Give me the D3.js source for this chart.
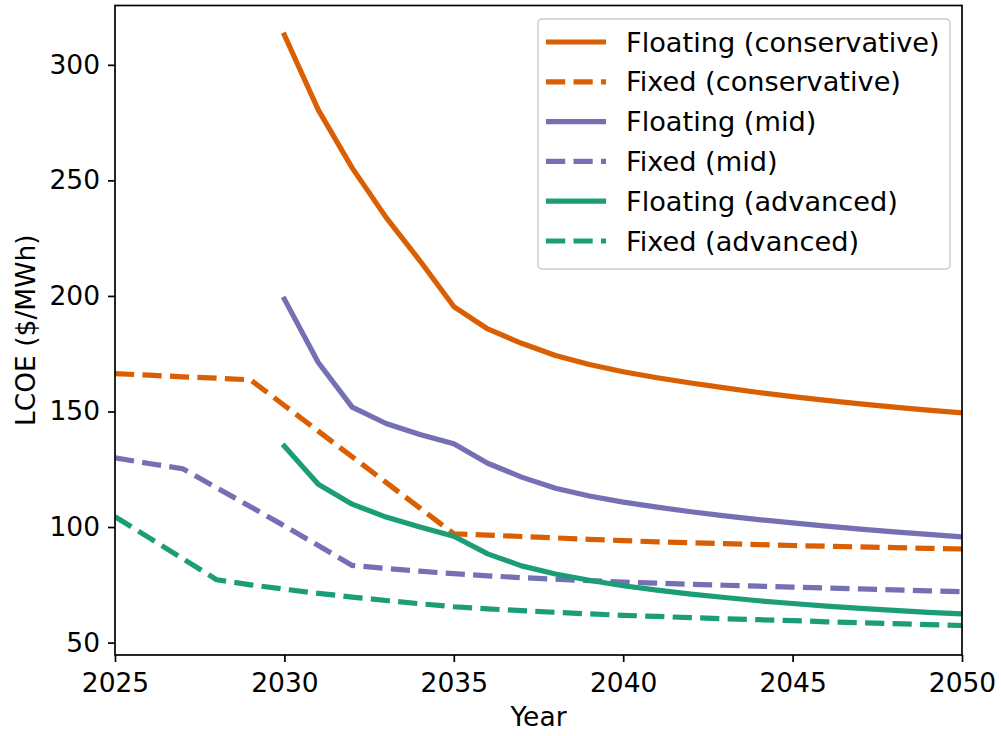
<!DOCTYPE html>
<html lang="en">
<head>
  <meta charset="UTF-8">
  <title>LCOE projections</title>
  <script src="https://d3js.org/d3.v7.min.js"></script>
  <style>
    body {
      margin: 0;
      background: #fff;
    }
    svg {
      display: block;
      font-family: "DejaVu Sans", sans-serif;
    }
  </style>
</head>
<body>
<svg width="1001" height="736"></svg>

<script>
  // years for each series
  const yearsFull = d3.range(2025, 2051);
  const yearsFloat = d3.range(2030, 2051);

  // LCOE values ($/MWh)
  const floatingConservative = [312.9, 280.5, 255.4, 234.0, 215.2, 195.4, 185.7, 179.5, 174.2, 170.3, 167.2,
    164.6, 162.3, 160.2, 158.2, 156.4, 154.8, 153.3, 151.9, 150.6, 149.4];
  const fixedConservative = [166.4, 165.7, 165.0, 164.4, 163.7, 152.6, 141.5, 130.4, 119.3, 108.2, 97.1,
    96.5, 95.9, 95.3, 94.7, 94.1, 93.6, 93.2, 92.8, 92.4, 92.0, 91.7, 91.4, 91.1, 90.8, 90.5];
  const floatingMid = [198.6, 171.2, 151.9, 144.8, 140.0, 136.0, 127.6, 121.6, 116.8, 113.4, 110.8,
    108.6, 106.6, 104.8, 103.2, 101.8, 100.4, 99.1, 97.9, 96.8, 95.7];
  const fixedMid = [129.9, 127.5, 125.2, 117.0, 108.8, 100.5, 92.0, 83.4, 82.1, 80.9, 79.8,
    78.9, 78.1, 77.4, 76.8, 76.2, 75.7, 75.2, 74.8, 74.4, 74.0, 73.6, 73.2, 72.8, 72.4, 72.0];
  const floatingAdvanced = [135.0, 118.5, 109.9, 104.3, 100.0, 96.0, 88.4, 83.2, 79.7, 77.0, 74.6,
    72.7, 71.0, 69.5, 68.1, 66.9, 65.8, 64.8, 63.9, 63.1, 62.4];
  const fixedAdvanced = [104.5, 95.4, 86.3, 77.2, 75.0, 73.1, 71.3, 69.7, 68.2, 66.8, 65.5,
    64.6, 63.8, 63.1, 62.4, 61.8, 61.3, 60.8, 60.3, 59.9, 59.5, 59.0, 58.6, 58.2, 57.8, 57.4];

  const xTicks = [2025, 2030, 2035, 2040, 2045, 2050];
  const yTicks = [50, 100, 150, 200, 250, 300];

  const orange = "#d95f02", purple = "#7570b3", green = "#1b9e77";

  const series = [
    { name: "Floating (conservative)", years: yearsFloat, values: floatingConservative, color: orange, dashed: false },
    { name: "Fixed (conservative)", years: yearsFull, values: fixedConservative, color: orange, dashed: true },
    { name: "Floating (mid)", years: yearsFloat, values: floatingMid, color: purple, dashed: false },
    { name: "Fixed (mid)", years: yearsFull, values: fixedMid, color: purple, dashed: true },
    { name: "Floating (advanced)", years: yearsFloat, values: floatingAdvanced, color: green, dashed: false },
    { name: "Fixed (advanced)", years: yearsFull, values: fixedAdvanced, color: green, dashed: true }
  ];

  const svg = d3.select("svg");
  const margin = { left: 115, right: 39, top: 5.5, bottom: 81 };
  const W = 1001, H = 736;
  const fontSize = 26.5;
  const legendFont = 27.2;
  const lineW = 5.2;
  const dash = "19.2,8.3";

  // y domain like matplotlib: data extent plus 5% margin
  const allVals = series.flatMap(s => s.values);
  const yMin = d3.min(allVals), yMax = d3.max(allVals);
  const pad = (yMax - yMin) * 0.05;

  const x = d3.scaleLinear().domain([2025, 2050]).range([margin.left, W - margin.right]);
  const y = d3.scaleLinear().domain([yMin - pad, yMax + pad]).range([H - margin.bottom, margin.top]);

  svg.append("defs").append("clipPath").attr("id", "plot")
    .append("rect")
    .attr("x", x.range()[0]).attr("y", y.range()[1])
    .attr("width", x.range()[1] - x.range()[0])
    .attr("height", y.range()[0] - y.range()[1]);

  const line = d3.line().x(d => x(d[0])).y(d => y(d[1]));

  svg.append("g").attr("clip-path", "url(#plot)")
    .selectAll("path")
    .data(series)
    .join("path")
    .attr("d", s => line(s.years.map((yr, i) => [yr, s.values[i]])))
    .attr("fill", "none")
    .attr("stroke", s => s.color)
    .attr("stroke-width", lineW)
    .attr("stroke-linejoin", "round")
    .attr("stroke-linecap", s => s.dashed ? "butt" : "square")
    .attr("stroke-dasharray", s => s.dashed ? dash : null);

  // axes
  const xAxis = svg.append("g")
    .attr("transform", `translate(0,${H - margin.bottom})`)
    .call(d3.axisBottom(x).tickValues(xTicks).tickFormat(d3.format("d")).tickSizeOuter(0).tickSize(7).tickPadding(11));
  const yAxis = svg.append("g")
    .attr("transform", `translate(${margin.left},0)`)
    .call(d3.axisLeft(y).tickValues(yTicks).tickSizeOuter(0).tickSize(7).tickPadding(8));

  [xAxis, yAxis].forEach(g => {
    g.select(".domain").remove();
    g.selectAll(".tick line").attr("stroke", "#000").attr("stroke-width", 1.7);
    g.selectAll(".tick text").attr("fill", "#000")
      .style("font-size", fontSize + "px")
      .style("font-family", "'DejaVu Sans', sans-serif");
  });

  // frame
  svg.append("rect")
    .attr("x", x.range()[0]).attr("y", y.range()[1])
    .attr("width", x.range()[1] - x.range()[0])
    .attr("height", y.range()[0] - y.range()[1])
    .attr("fill", "none")
    .attr("stroke", "#000")
    .attr("stroke-width", 1.7);

  // axis labels
  svg.append("text")
    .attr("x", (x.range()[0] + x.range()[1]) / 2)
    .attr("y", 726)
    .attr("text-anchor", "middle")
    .style("font-size", fontSize + "px")
    .text("Year");

  svg.append("text")
    .attr("transform", `translate(35,${(y.range()[0] + y.range()[1]) / 2}) rotate(-90)`)
    .attr("text-anchor", "middle")
    .style("font-size", fontSize + "px")
    .text("LCOE ($/MWh)");

  // legend
  const legend = svg.append("g").attr("transform", "translate(538,19)");
  legend.append("rect")
    .attr("width", 412).attr("height", 250)
    .attr("rx", 4)
    .attr("fill", "#fff").attr("fill-opacity", 0.8)
    .attr("stroke", "#cccccc").attr("stroke-width", 1.5);

  const rowH = 39.8;
  const rows = legend.selectAll("g.item")
    .data(series)
    .join("g")
    .attr("class", "item")
    .attr("transform", (d, i) => `translate(0,${23 + i * rowH})`);

  rows.append("line")
    .attr("x1", 8).attr("x2", 68)
    .attr("stroke", d => d.color)
    .attr("stroke-width", lineW)
    .attr("stroke-dasharray", d => d.dashed ? dash : null);

  rows.append("text")
    .attr("x", 88)
    .attr("dy", "0.35em")
    .style("font-size", legendFont + "px")
    .text(d => d.name);
</script>
</body>
</html>
